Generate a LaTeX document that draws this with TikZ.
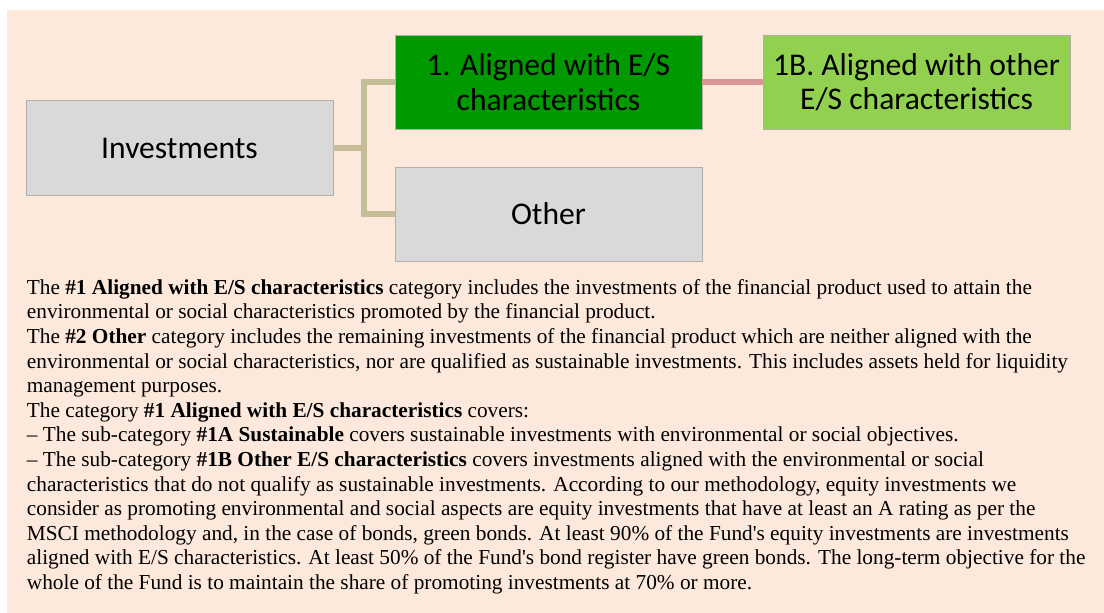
\documentclass[tikz,border=0pt]{standalone}
\usepackage{fontspec}
\setmainfont{Liberation Serif}
\newfontfamily\boxfont{Carlito}
\definecolor{peach}{HTML}{FCE9DB}
\definecolor{darkgrn}{HTML}{009900}
\definecolor{litegrn}{HTML}{92D050}
\definecolor{boxgray}{HTML}{D9D9D9}
\definecolor{boxedge}{HTML}{B5ADA6}
\definecolor{tanline}{HTML}{C4BD97}
\definecolor{pinkline}{HTML}{D99694}
\begin{document}
\begin{tikzpicture}[x=1pt,y=-1pt,
  catbox/.style={draw=boxedge, line width=0.8pt, minimum width=307pt, minimum height=94pt,
    inner sep=0pt, align=center, text=black,
    font=\boxfont\fontsize{31.6}{34.4}\selectfont},
  tanconn/.style={draw=tanline, line width=6pt},
  pinkconn/.style={draw=pinkline, line width=6pt}]
\useasboundingbox (0,0) rectangle (1104,613);
\fill[peach] (7,10) rectangle (1104,613);
\node[catbox, fill=boxgray, minimum height=95pt] (inv) at (179.5,148) {Investments};
\node[catbox, fill=darkgrn] (al) at (548.5,82.3) {1. Aligned with E/S\\characteristics};
\node[catbox, fill=boxgray] (oth) at (548.5,214) {Other};
\node[catbox, fill=litegrn] (ob) at (916.5,82.3) {1B. Aligned with other\\E/S characteristics};
\coordinate (j) at (364,148);
\draw[tanconn] (inv.east) -- (j);
\draw[tanconn] ([yshift=-3pt]j |- al.west) -- (j |- al.west) -- (al.west);
\draw[tanconn] (j |- al.west) -- (j |- oth.west) -- (oth.west);
\draw[pinkconn] (al.east) -- (ob.west);
\node[anchor=base west, inner sep=0pt, align=left, font=\fontsize{21.3}{24.6}\selectfont] (txt) at (26.7,589.5)
{The \textbf{\#1 Aligned with E/S characteristics} category includes the investments of the financial product used to attain the\\
environmental or social characteristics promoted by the financial product.\\
The \textbf{\#2 Other} category includes the remaining investments of the financial product which are neither aligned with the\\
environmental or social characteristics, nor are qualified as sustainable investments. This includes assets held for liquidity\\
management purposes.\\
The category \textbf{\#1 Aligned with E/S characteristics} covers:\\
– The sub-category \textbf{\#1A Sustainable} covers sustainable investments with environmental or social objectives.\\
– The sub-category \textbf{\#1B Other E/S characteristics} covers investments aligned with the environmental or social\\
characteristics that do not qualify as sustainable investments. According to our methodology, equity investments we\\
consider as promoting environmental and social aspects are equity investments that have at least an A rating as per the\\
MSCI methodology and, in the case of bonds, green bonds. At least 90\% of the Fund\textquotesingle s equity investments are investments\\
aligned with E/S characteristics. At least 50\% of the Fund\textquotesingle s bond register have green bonds. The long-term objective for the\\
whole of the Fund is to maintain the share of promoting investments at 70\% or more.};
\end{tikzpicture}
\end{document}
